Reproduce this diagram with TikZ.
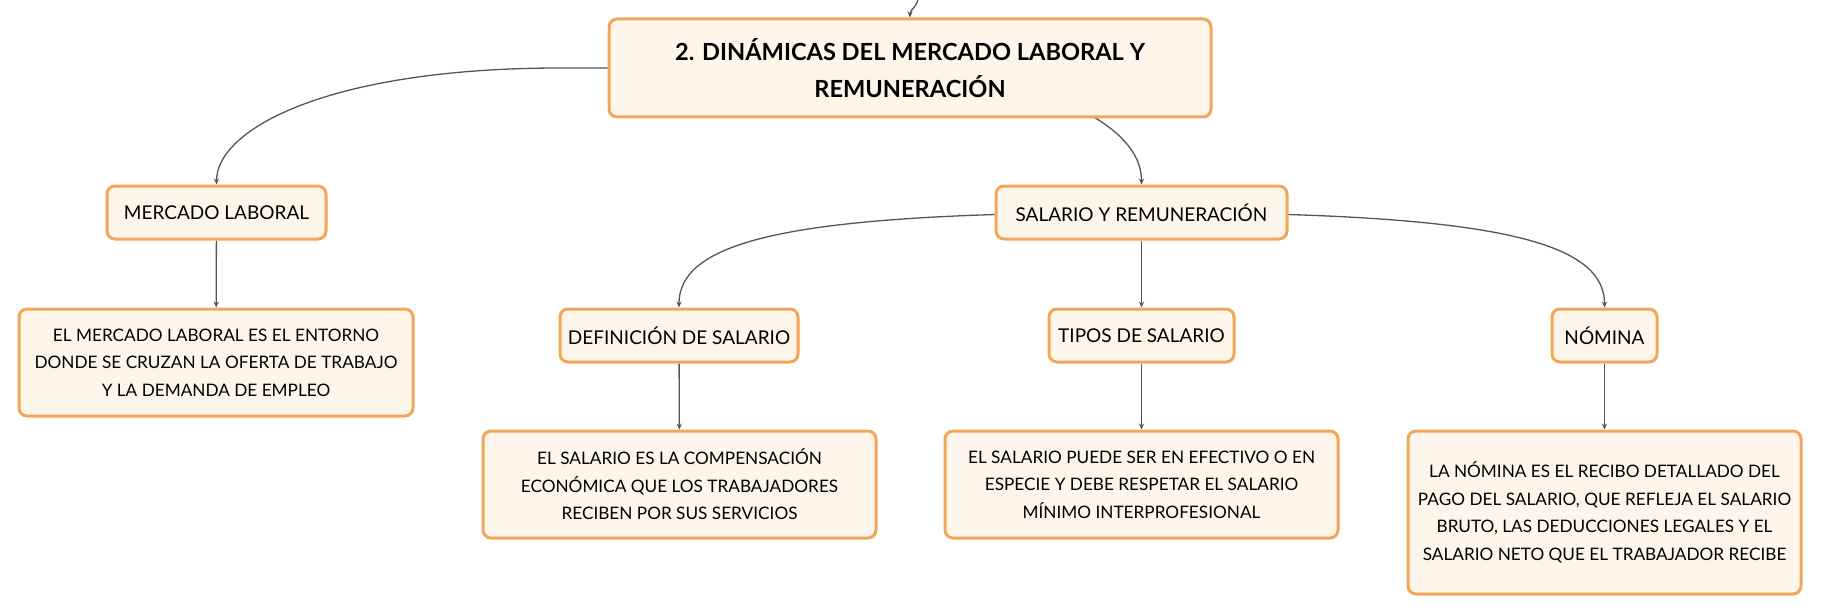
\documentclass[tikz,border=0pt]{standalone}
\usepackage{fontspec}
\setmainfont{Lato}
\usetikzlibrary{arrows.meta,backgrounds}
\tikzset{>={Stealth[length=3pt,width=2.6pt]}}
\colorlet{background}{white}
\definecolor{penColor}{HTML}{555555}
\definecolor{boxLine}{HTML}{F2A65A}
\definecolor{boxFill}{HTML}{FEF5EA}
\tikzset{
  box/.style={draw=boxLine, fill=boxFill, line width=1.5pt, rounded corners=4pt,
              align=center, inner sep=0pt, text=black},
  titlebox/.style={box, minimum height=49pt,
                   font=\fontsize{11.8}{18.5}\selectfont\bfseries},
  topicbox/.style={box, minimum height=26.5pt, font=\fontsize{9.5}{13}\selectfont},
  notebox/.style={box, minimum height=53.5pt, font=\fontsize{8.6}{13.75}\selectfont},
  link/.style={->, penColor, line width=0.65pt}
}
\begin{document}
\begin{tikzpicture}[x=0.5pt,y=-0.5pt]
    \useasboundingbox (0,0) rectangle (1821,615);
    % title
    \node[titlebox, minimum width=301pt] (top) at (910,68)
      {2. DINÁMICAS DEL MERCADO LABORAL Y\\ REMUNERACIÓN};
    \coordinate (up) at (918,-2);
    % left branch
    \node[topicbox, minimum width=109.5pt] (merc) at (216.5,212.5) {MERCADO LABORAL};
    \node[notebox, minimum width=197pt] (mercnote) at (216,362.5)
      {EL MERCADO LABORAL ES EL ENTORNO\\ DONDE SE CRUZAN LA OFERTA DE TRABAJO\\ Y LA DEMANDA DE EMPLEO};
    % right branch
    \node[topicbox, minimum width=145.5pt] (sal) at (1141.5,212.5) {SALARIO Y REMUNERACIÓN};
    \node[topicbox, minimum width=119pt] (def) at (679,335.5) {DEFINICIÓN DE SALARIO};
    \node[topicbox, minimum width=92.5pt] (tipos) at (1141.5,335.5) {TIPOS DE SALARIO};
    \node[topicbox, minimum width=52.5pt] (nom) at (1604.5,335.5) {NÓMINA};
    \node[notebox, minimum width=196.5pt] (defnote) at (679.5,484.5)
      {EL SALARIO ES LA COMPENSACIÓN\\ ECONÓMICA QUE LOS TRABAJADORES\\ RECIBEN POR SUS SERVICIOS};
    \node[notebox, minimum width=196.5pt] (tiposnote) at (1141.5,484.5)
      {EL SALARIO PUEDE SER EN EFECTIVO O EN\\ ESPECIE Y DEBE RESPETAR EL SALARIO\\ MÍNIMO INTERPROFESIONAL};
    \node[notebox, minimum width=196.5pt, minimum height=81.5pt] (nomnote) at (1604.5,512.5)
      {LA NÓMINA ES EL RECIBO DETALLADO DEL\\ PAGO DEL SALARIO, QUE REFLEJA EL SALARIO\\ BRUTO, LAS DEDUCCIONES LEGALES Y EL\\ SALARIO NETO QUE EL TRABAJADOR RECIBE};
    % connectors
    \begin{scope}[on background layer]
      \draw[link] (up) .. controls +(0,8) and +(0,-8) .. (top.north);
      \draw[link] (top.center) -- ++(-350,0) .. controls +(-230,0) and +(0,-56) .. (merc.north);
      \draw[link] (top.center) .. controls +(60,0) and +(0,-80) .. (sal.north);
      \draw[link] (merc) -- (mercnote);
      \draw[link] (sal.center) .. controls +(-342,0) and +(0,-69) .. (def.north);
      \draw[link] (sal) -- (tipos);
      \draw[link] (sal.center) .. controls +(342,0) and +(0,-69) .. (nom.north);
      \draw[link] (def) -- (defnote);
      \draw[link] (tipos) -- (tiposnote);
      \draw[link] (nom) -- (nomnote);
    \end{scope}
\end{tikzpicture}
\end{document}
